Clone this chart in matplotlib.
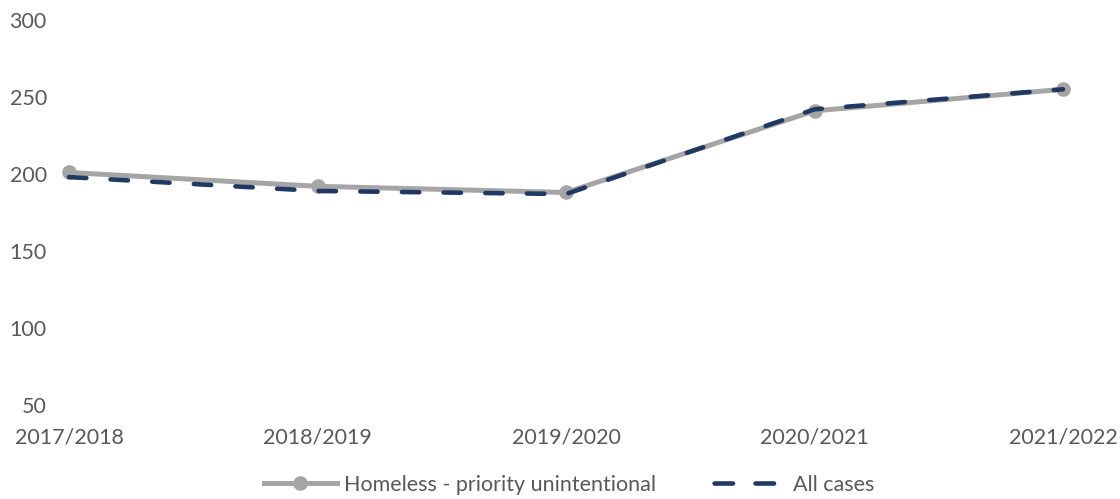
import matplotlib
matplotlib.use("Agg")
import matplotlib.pyplot as plt
from matplotlib.lines import Line2D

plt.rcParams['font.family'] = ['Lato', 'DejaVu Sans']
plt.rcParams['lines.scale_dashes'] = False

years = ["2017/2018", "2018/2019", "2019/2020", "2020/2021", "2021/2022"]
priority_unintentional = [201, 192, 188, 241, 255]
all_cases = [198, 189, 187, 242, 255]
y_ticks = [50, 100, 150, 200, 250, 300]

gray = "#A5A5A5"
navy = "#1F3864"
text_color = "#595959"

fig = plt.figure(figsize=(11.2, 4.99), dpi=100)
ax = fig.add_axes([69 / 1120, 94 / 499, (1063 - 69) / 1120, (405 - 20) / 499])

x = list(range(len(years)))
ax.plot(x, priority_unintentional, color=gray, lw=3.6, marker="o", ms=9.5,
        solid_capstyle="round", zorder=2, clip_on=False)
ax.plot(x, all_cases, color=navy, lw=3.3, linestyle=(0, (12.5, 17.5)),
        dash_capstyle="round", zorder=3, clip_on=False)

ax.set_xlim(0, 4)
ax.set_ylim(50, 300)
ax.set_yticks(y_ticks)
ax.set_xticks(x)
ax.set_xticklabels(years)
for s in ax.spines.values():
    s.set_visible(False)
ax.tick_params(axis="both", length=0, labelsize=15.5, labelcolor=text_color)
ax.tick_params(axis="y", pad=16)
ax.tick_params(axis="x", pad=16)

handles = [
    Line2D([], [], color=gray, lw=3.6, marker="o", ms=9.5),
    Line2D([], [], color=navy, lw=3.3, linestyle=(-1.5, (13.3, 16.2)),
           dash_capstyle="round"),
]
leg = fig.legend(handles, ["Homeless - priority unintentional", "All cases"],
                 loc="lower center", bbox_to_anchor=(0.508, -0.03), ncol=2,
                 frameon=False, fontsize=15.5, handlelength=3.4, columnspacing=2.6,
                 handletextpad=0.35)
for t in leg.get_texts():
    t.set_color(text_color)

fig.savefig("out.png", dpi=100)
